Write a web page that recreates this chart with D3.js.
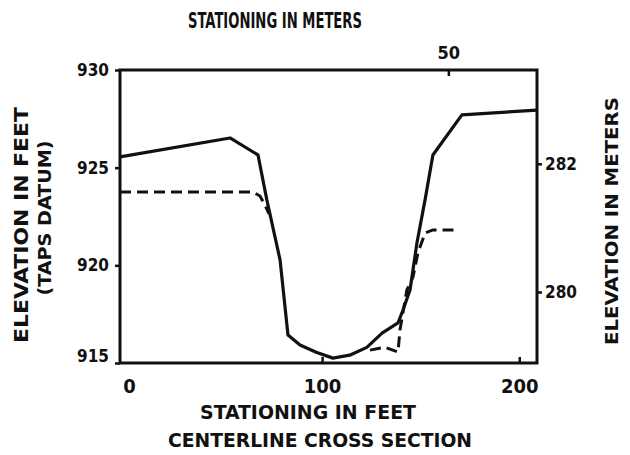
<!DOCTYPE html>
<html>
<head>
<meta charset="utf-8">
<script src="https://cdn.jsdelivr.net/npm/d3@7"></script>
<style>
  body { margin: 0; background: #fff; }
  svg text { font-family: "DejaVu Sans Condensed", "DejaVu Sans", sans-serif; font-weight: bold; fill: #111; }
</style>
</head>
<body>
<svg id="chart" width="630" height="455"></svg>
<script>
// stationing (ft) / elevation (ft)
const groundStation = [-2.5, 53.3, 67.5, 72, 78.7, 82.7, 88.8, 97, 105.5, 114, 122.7, 130.4, 138.5, 141, 144.6, 148.1, 152.2, 156.2, 170.9, 209];
const groundElev = [925.55, 926.52, 925.65, 923.34, 920.27, 916.43, 915.92, 915.55, 915.25, 915.4, 915.8, 916.53, 917.05, 917.7, 918.74, 921.14, 923.34, 925.65, 927.7, 927.95];

const leftBankStation = [-2.5, 65, 68.5, 71, 73.1];
const leftBankElev = [923.75, 923.75, 923.55, 923.09, 922.63];

const rightBankStation = [124.3, 131.9, 138.5, 139.5, 143, 146.1, 148.6, 152.2, 156.2, 167.4];
const rightBankElev = [915.66, 915.81, 915.56, 916.69, 918.74, 919.4, 920.63, 921.65, 921.81, 921.81];

const feetTicks = [0, 100, 200];
const meterTicks = [50];
const elevFeetTicks = [930, 925, 920, 915];
const elevMeterTicks = [282, 280];

const FT_PER_M = 3.28084;

const svg = d3.select('#chart');
const margin = { left: 120, right: 93, top: 70, bottom: 92 };
const W = 630, H = 455;

const x = d3.scaleLinear().domain([-2.5, 209]).range([margin.left, W - margin.right]);
const y = d3.scaleLinear().domain([915, 930]).range([H - margin.bottom, margin.top]);
const xm = d3.scaleLinear().domain(x.domain().map(d => d / FT_PER_M)).range(x.range());
const ym = d3.scaleLinear().domain(y.domain().map(d => d / FT_PER_M)).range(y.range());

const line = d3.line().x(d => x(d[0])).y(d => y(d[1]));

// frame
svg.append('rect')
  .attr('x', x.range()[0]).attr('y', y.range()[1])
  .attr('width', x.range()[1] - x.range()[0])
  .attr('height', y.range()[0] - y.range()[1])
  .attr('fill', 'none').attr('stroke', '#111').attr('stroke-width', 3);

const styleAxis = (g) => {
  g.select('.domain').remove();
  g.selectAll('.tick line').attr('stroke', '#111').attr('stroke-width', 2.5);
  g.selectAll('.tick text').attr('fill', '#111');
};

// left axis (feet)
svg.append('g')
  .attr('transform', `translate(${x.range()[0]},0)`)
  .call(d3.axisLeft(y).tickValues(elevFeetTicks).tickSize(5).tickPadding(6).tickFormat(d3.format('d')))
  .call(styleAxis)
  .call(g => g.selectAll('.tick text').style('font-size', '17px'))
  .call(g => g.selectAll('.tick').filter(d => d === 915).select('text').attr('dy', '-0.1em'));

// right axis (meters)
svg.append('g')
  .attr('transform', `translate(${x.range()[1]},0)`)
  .call(d3.axisRight(ym).tickValues(elevMeterTicks).tickSize(5).tickPadding(3).tickFormat(d3.format('d')))
  .call(styleAxis)
  .call(g => g.selectAll('.tick text').style('font-size', '17px'));

// bottom axis (feet), ticks point inward
svg.append('g')
  .attr('transform', `translate(0,${y.range()[0]})`)
  .call(d3.axisBottom(x).tickValues(feetTicks).tickSize(-6).tickPadding(16).tickFormat(d3.format('d')))
  .call(styleAxis)
  .call(g => g.selectAll('.tick text').style('font-size', '20px'))
  .call(g => g.selectAll('.tick').filter(d => d === 0).select('line').remove())
  .call(g => g.selectAll('.tick').filter(d => d === 0).select('text').attr('x', 4));

// top axis (meters), tick points inward
svg.append('g')
  .attr('transform', `translate(0,${y.range()[1]})`)
  .call(d3.axisTop(xm).tickValues(meterTicks).tickSize(-6).tickPadding(11).tickFormat(d3.format('d')))
  .call(styleAxis)
  .call(g => g.selectAll('.tick text').style('font-size', '18px'));

// profiles
svg.append('path')
  .datum(groundStation.map((s, i) => [s, groundElev[i]]))
  .attr('d', line).attr('fill', 'none').attr('stroke', '#111')
  .attr('stroke-width', 3.2).attr('stroke-linejoin', 'round');

[[leftBankStation, leftBankElev], [rightBankStation, rightBankElev]].forEach(([s, e]) => {
  svg.append('path')
    .datum(s.map((v, i) => [v, e[i]]))
    .attr('d', line).attr('fill', 'none').attr('stroke', '#111')
    .attr('stroke-width', 3).attr('stroke-dasharray', '11,6');
});

// titles
const label = (txt, cx, cy, size, len, rot) => {
  svg.append('text')
    .attr('transform', `translate(${cx},${cy})` + (rot ? ` rotate(${rot})` : ''))
    .attr('text-anchor', 'middle')
    .attr('textLength', len).attr('lengthAdjust', 'spacingAndGlyphs')
    .style('font-size', size + 'px')
    .text(txt);
};

label('STATIONING IN METERS', 275, 28, 22, 174);
label('STATIONING IN FEET', 308, 419, 19, 216);
label('CENTERLINE CROSS SECTION', 320, 447, 19, 304);
label('ELEVATION IN FEET', 28, 225, 19, 236, -90);
label('(TAPS DATUM)', 51, 218, 17, 155, -90);
label('ELEVATION IN METERS', 618, 221, 18, 248, -90);
</script>
</body>
</html>
